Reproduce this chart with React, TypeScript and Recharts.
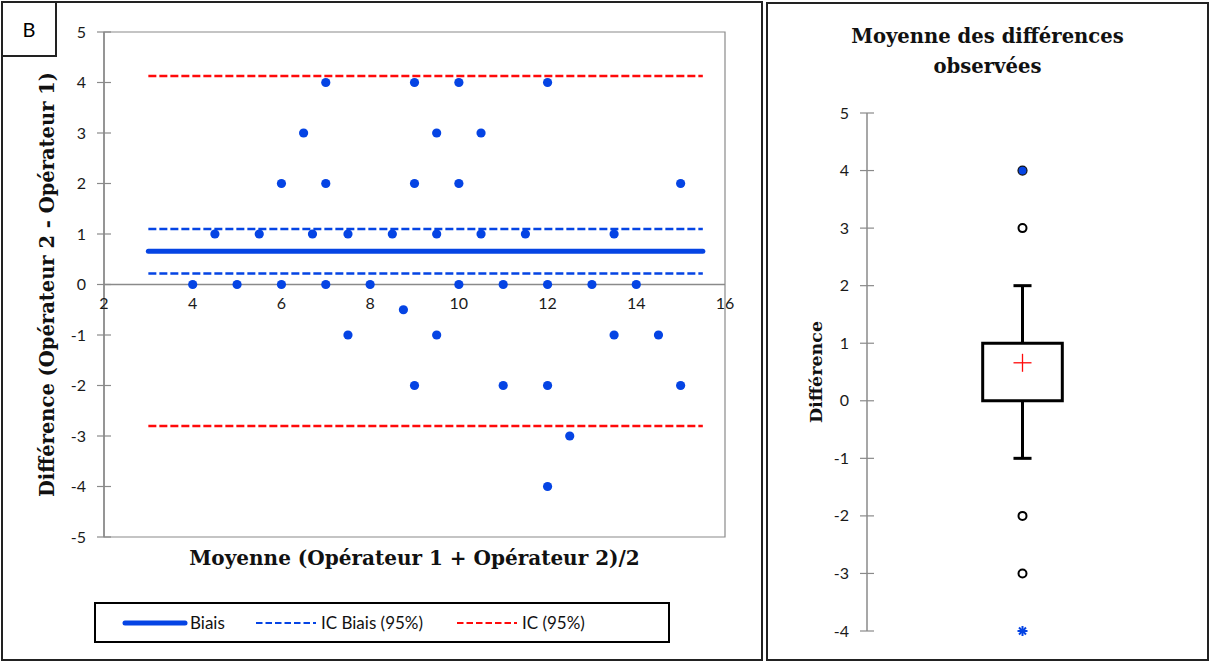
import {
  ComposedChart,
  Scatter,
  XAxis,
  YAxis,
  ReferenceLine,
  ReferenceArea,
  ReferenceDot,
} from 'recharts';

// Bland-Altman: mean of the two operators vs difference
const meanValues = [
  4, 5, 6, 7, 8, 10, 11, 12, 13, 14,
  4.5, 5.5, 6.7, 7.5, 8.5, 9.5, 10.5, 11.5, 13.5,
  6, 7, 9, 10, 15,
  6.5, 9.5, 10.5,
  7, 9, 10, 12,
  8.75,
  7.5, 9.5, 13.5, 14.5,
  9, 11, 12, 15,
  12.5,
  12,
];
const diffValues = [
  0, 0, 0, 0, 0, 0, 0, 0, 0, 0,
  1, 1, 1, 1, 1, 1, 1, 1, 1,
  2, 2, 2, 2, 2,
  3, 3, 3,
  4, 4, 4, 4,
  -0.5,
  -1, -1, -1, -1,
  -2, -2, -2, -2,
  -3,
  -4,
];

const bias = 0.66;
const biasCI = [0.22, 1.1];
const limitsCI = [-2.8, 4.13];
const lineRange = [3, 15.5];

const xTicks = [2, 4, 6, 8, 10, 12, 14, 16];
const yTicks = [-5, -4, -3, -2, -1, 0, 1, 2, 3, 4, 5];

// box plot of the differences
const boxQ1 = 0;
const boxQ3 = 1;
const whiskerLow = -1;
const whiskerHigh = 2;
const boxMean = 0.66;
const openOutliers = [3, -2, -3];
const maxValue = 4;
const minValue = -4;
const boxTicks = [-4, -3, -2, -1, 0, 1, 2, 3, 4, 5];

const BLUE = '#0544e4';
const RED = '#ff0a0a';
const AXIS = '#8a8a8a';
const SANS = 'Lato, "Open Sans", sans-serif';
const SERIF = '"DejaVu Serif", serif';

const points = meanValues.map((x, i) => ({ x, y: diffValues[i] }));

function CrossTick(props: any) {
  const { x, y, payload } = props;
  const ax = x + 18;
  return (
    <g>
      <line x1={ax - 7} x2={ax + 7} y1={y} y2={y} stroke={AXIS} strokeWidth={1.2} />
      <text x={x} y={y} dy={5.5} textAnchor="end" fontFamily={SANS} fontSize={16} fill="#1a1a1a">
        {payload.value}
      </text>
    </g>
  );
}

function BlandAltman() {
  const hl = (y: number) => [
    { x: lineRange[0], y },
    { x: lineRange[1], y },
  ];
  return (
    <ComposedChart
      width={763}
      height={590}
      margin={{ top: 32, right: 38, bottom: 0, left: 0 }}
    >
      <XAxis
        type="number"
        dataKey="x"
        domain={[2, 16]}
        ticks={xTicks}
        height={53}
        axisLine={false}
        tickLine={false}
        tick={false}
        label={{
          content: (p: any) => (
            <text
              x={p.viewBox.x + p.viewBox.width / 2}
              y={p.viewBox.y + 28}
              textAnchor="middle"
              fontFamily={SERIF}
              fontWeight="bold"
              fontSize={20}
              fill="#111"
            >
              Moyenne (Opérateur 1 + Opérateur 2)/2
            </text>
          ),
        }}
      />
      <YAxis
        type="number"
        dataKey="y"
        domain={[-5, 5]}
        ticks={yTicks}
        width={104}
        stroke={AXIS}
        strokeWidth={1.5}
        tickLine={false}
        tickSize={0}
        tickMargin={18}
        tick={<CrossTick />}
        label={{
          content: (p: any) => {
            const cx = 47;
            const cy = p.viewBox.y + p.viewBox.height / 2;
            return (
              <text
                transform={`translate(${cx}, ${cy}) rotate(-90)`}
                textAnchor="middle"
                dy={7}
                fontFamily={SERIF}
                fontWeight="bold"
                fontSize={19.5}
                fill="#111"
              >
                Différence (Opérateur 2 - Opérateur 1)
              </text>
            );
          },
        }}
      />
      <ReferenceArea x1={2} x2={16} y1={-5} y2={5} fill="none" stroke={AXIS} strokeWidth={1.2} />
      <ReferenceLine y={0} stroke={AXIS} strokeWidth={1.5} />
      {xTicks.map((t) => (
        <ReferenceDot
          key={t}
          x={t}
          y={0}
          r={1}
          fill="none"
          stroke="none"
          ifOverflow="visible"
          label={{ value: String(t), position: 'bottom', offset: 12, fontFamily: SANS, fontSize: 16, fill: '#1a1a1a' }}
        />
      ))}
      <ReferenceLine segment={hl(limitsCI[1])} stroke={RED} strokeWidth={2.5} strokeDasharray="8 3" ifOverflow="visible" />
      <ReferenceLine segment={hl(limitsCI[0])} stroke={RED} strokeWidth={2.5} strokeDasharray="8 3" ifOverflow="visible" />
      <ReferenceLine segment={hl(biasCI[1])} stroke={BLUE} strokeWidth={2.5} strokeDasharray="8 3" ifOverflow="visible" />
      <ReferenceLine segment={hl(biasCI[0])} stroke={BLUE} strokeWidth={2.5} strokeDasharray="8 3" ifOverflow="visible" />
      <ReferenceLine segment={hl(bias)} stroke={BLUE} strokeWidth={5} strokeLinecap="round" ifOverflow="visible" />
      <Scatter
        data={points}
        fill={BLUE}
        isAnimationActive={false}
        shape={(p: any) => <circle cx={p.cx} cy={p.cy} r={4.6} fill={BLUE} />}
      />
    </ComposedChart>
  );
}

function Asterisk(props: any) {
  const { cx, cy } = props;
  const s = 5;
  return (
    <g stroke={BLUE} strokeWidth={2}>
      <line x1={cx - s} x2={cx + s} y1={cy} y2={cy} />
      <line x1={cx - s * 0.7} x2={cx + s * 0.7} y1={cy - s * 0.7} y2={cy + s * 0.7} />
      <line x1={cx - s * 0.7} x2={cx + s * 0.7} y1={cy + s * 0.7} y2={cy - s * 0.7} />
      <line x1={cx} x2={cx} y1={cy - s} y2={cy + s} />
    </g>
  );
}

function BoxPlot() {
  const c = 1;
  const half = 0.256;
  const cap = 0.058;
  return (
    <ComposedChart
      width={442}
      height={661}
      margin={{ top: 113, right: 30, bottom: 30, left: 0 }}
    >
      <XAxis type="number" dataKey="x" domain={[0, 2]} hide />
      <YAxis
        type="number"
        dataKey="y"
        domain={[-4, 5]}
        ticks={boxTicks}
        width={101}
        stroke={AXIS}
        strokeWidth={1.5}
        tickLine={false}
        tickSize={0}
        tickMargin={18}
        tick={<CrossTick />}
        label={{
          content: (p: any) => {
            const cx = 49;
            const cy = p.viewBox.y + p.viewBox.height / 2;
            return (
              <text
                transform={`translate(${cx}, ${cy}) rotate(-90)`}
                textAnchor="middle"
                dy={7}
                fontFamily={SERIF}
                fontWeight="bold"
                fontSize={17.5}
                fill="#111"
              >
                Différence
              </text>
            );
          },
        }}
      />
      <ReferenceLine segment={[{ x: c, y: boxQ3 }, { x: c, y: whiskerHigh }]} stroke="#000" strokeWidth={3} />
      <ReferenceLine segment={[{ x: c, y: whiskerLow }, { x: c, y: boxQ1 }]} stroke="#000" strokeWidth={3} />
      <ReferenceLine segment={[{ x: c - cap, y: whiskerHigh }, { x: c + cap, y: whiskerHigh }]} stroke="#000" strokeWidth={3} />
      <ReferenceLine segment={[{ x: c - cap, y: whiskerLow }, { x: c + cap, y: whiskerLow }]} stroke="#000" strokeWidth={3} />
      <ReferenceArea x1={c - half} x2={c + half} y1={boxQ1} y2={boxQ3} fill="#fff" fillOpacity={1} stroke="#000" strokeWidth={3} />
      <Scatter
        data={[{ x: c, y: boxMean }]}
        isAnimationActive={false}
        shape={(p: any) => (
          <g stroke={RED} strokeWidth={1.3}>
            <line x1={p.cx - 9} x2={p.cx + 9} y1={p.cy} y2={p.cy} />
            <line x1={p.cx} x2={p.cx} y1={p.cy - 9} y2={p.cy + 9} />
          </g>
        )}
      />
      <Scatter
        data={openOutliers.map((y) => ({ x: c, y }))}
        isAnimationActive={false}
        shape={(p: any) => <circle cx={p.cx} cy={p.cy} r={4} fill="#fff" stroke="#000" strokeWidth={2} />}
      />
      <Scatter
        data={[{ x: c, y: maxValue }]}
        isAnimationActive={false}
        shape={(p: any) => <circle cx={p.cx} cy={p.cy} r={4.5} fill={BLUE} stroke="#111" strokeWidth={1.2} />}
      />
      <Scatter data={[{ x: c, y: minValue }]} isAnimationActive={false} shape={<Asterisk />} />
    </ComposedChart>
  );
}

function LegendBox() {
  const item = (left: number, dash: string | undefined, color: string, width: number, label: string) => (
    <div style={{ position: 'absolute', left, top: 0, height: 37, display: 'flex', alignItems: 'center', gap: 2 }}>
      <svg width={66} height={10}>
        <line
          x1={3}
          x2={63}
          y1={5}
          y2={5}
          stroke={color}
          strokeWidth={width}
          strokeDasharray={dash}
          strokeLinecap={dash ? 'butt' : 'round'}
        />
      </svg>
      <span>{label}</span>
    </div>
  );
  return (
    <div
      style={{
        position: 'absolute',
        left: 94,
        top: 602,
        width: 576,
        height: 41,
        boxSizing: 'border-box',
        border: '2px solid #000',
        fontFamily: SANS,
        fontSize: 17,
        color: '#111',
      }}
    >
      {item(26, undefined, BLUE, 5, 'Biais')}
      {item(157, '6.5 3', BLUE, 2, 'IC Biais (95%)')}
      {item(358, '6.5 3', RED, 2, 'IC (95%)')}
    </div>
  );
}

export default function App() {
  return (
    <div style={{ position: 'relative', width: 1210, height: 662, background: '#fff' }}>
      <style>{'body{margin:0}'}</style>
      <div
        style={{
          position: 'absolute',
          left: 1,
          top: 1,
          width: 762,
          height: 660,
          boxSizing: 'border-box',
          border: '2px solid #222',
        }}
      />
      <div
        style={{
          position: 'absolute',
          left: 1,
          top: 1,
          width: 56,
          height: 56,
          boxSizing: 'border-box',
          border: '2px solid #222',
          display: 'flex',
          alignItems: 'center',
          justifyContent: 'center',
          fontFamily: SANS,
          fontSize: 20,
        }}
      >
        B
      </div>
      <div style={{ position: 'absolute', left: 0, top: 0 }}>
        <BlandAltman />
      </div>
      <LegendBox />
      <div
        style={{
          position: 'absolute',
          left: 766,
          top: 2,
          width: 443,
          height: 659,
          boxSizing: 'border-box',
          border: '2px solid #222',
        }}
      />
      <div
        style={{
          position: 'absolute',
          left: 766,
          top: 22,
          width: 443,
          textAlign: 'center',
          fontFamily: SERIF,
          fontWeight: 'bold',
          fontSize: 19.6,
          lineHeight: '30px',
          color: '#111',
        }}
      >
        Moyenne des différences
        <br />
        observées
      </div>
      <div style={{ position: 'absolute', left: 766, top: 0 }}>
        <BoxPlot />
      </div>
    </div>
  );
}
